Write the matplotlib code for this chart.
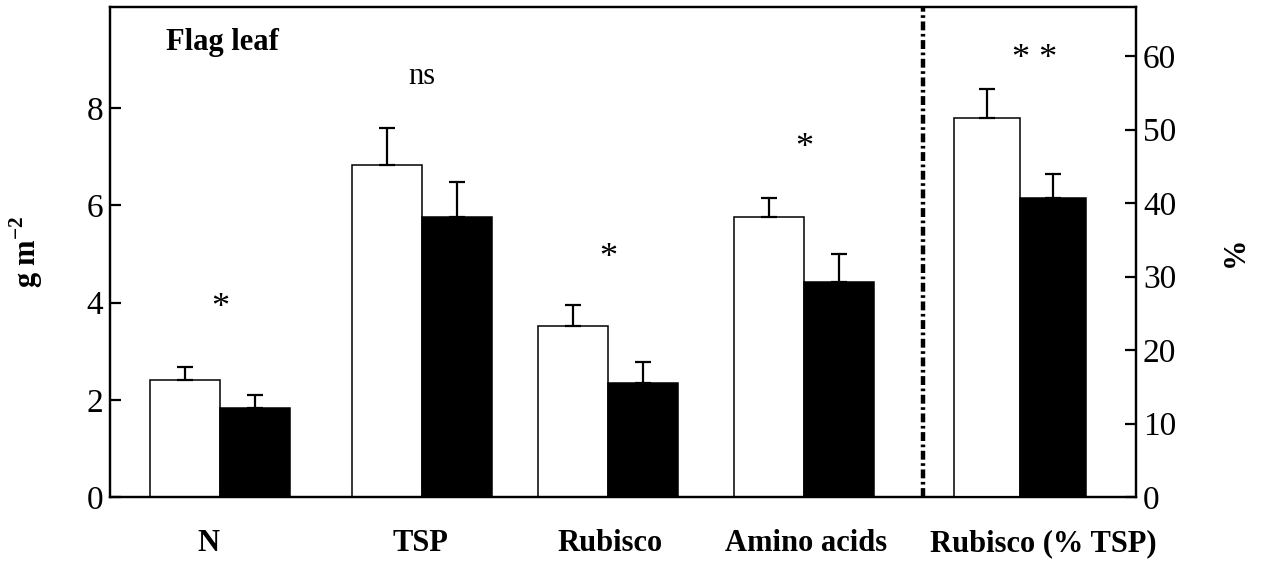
# Flag leaf N, TSP, Rubisco and amino acids (g m-2) plus Rubisco as % of TSP.
import matplotlib
matplotlib.use("Agg")
import matplotlib.pyplot as plt
import numpy as np

plt.rcParams['font.family'] = ['Liberation Serif', 'DejaVu Serif']
plt.rcParams['mathtext.fontset'] = 'custom'
plt.rcParams['mathtext.rm'] = 'Liberation Serif'
plt.rcParams['mathtext.bf'] = 'Liberation Serif:bold'

# data
groups = ['N', 'TSP', 'Rubisco', 'Amino acids']
white = [2.41, 6.82, 3.52, 5.75]
white_err = [0.26, 0.77, 0.43, 0.41]
black = [1.83, 5.75, 2.35, 4.43]
black_err = [0.27, 0.73, 0.43, 0.57]
signif = ['*', 'ns', '*', '*']
signif_y = [3.88, 8.64, 4.9, 7.16]

pct_group = 'Rubisco (% TSP)'
pct_white, pct_white_err = 51.6, 3.9
pct_black, pct_black_err = 40.7, 3.2
pct_signif = '* *'

# layout (x in axis units, frame 0..10.26)
xc = np.array([1.10, 3.12, 4.98, 6.94])
xc_pct = 9.10
w = 0.70
w_pct = 0.66
label_x = [0.98, 3.10, 5.00, 6.96, 9.33]
xdiv = 8.13

fig = plt.figure(figsize=(12.68, 5.64), dpi=100)
ax = fig.add_axes([0.0868, 0.1188, 0.8091, 0.8688])
ax2 = ax.twinx()

bar_kw = dict(edgecolor='black', linewidth=1.1)
err_kw = dict(elinewidth=1.6, capthick=1.6, capsize=6, ecolor='black')

ax.bar(xc - w/2, white, w, color='white', **bar_kw)
ax.bar(xc + w/2, black, w, color='black', **bar_kw)
ax.errorbar(xc - w/2, white, yerr=[np.zeros(4), white_err], fmt='none', **err_kw)
ax.errorbar(xc + w/2, black, yerr=[np.zeros(4), black_err], fmt='none', **err_kw)

ax2.bar(xc_pct - w_pct/2, pct_white, w_pct, color='white', **bar_kw)
ax2.bar(xc_pct + w_pct/2, pct_black, w_pct, color='black', **bar_kw)
ax2.errorbar([xc_pct - w_pct/2], [pct_white], yerr=[[0], [pct_white_err]], fmt='none', **err_kw)
ax2.errorbar([xc_pct + w_pct/2], [pct_black], yerr=[[0], [pct_black_err]], fmt='none', **err_kw)

# significance marks
for x, s, y in zip(xc, signif, signif_y):
    fs = 22 if s == 'ns' else 26
    ax.text(x, y, s, ha='center', va='center', fontsize=fs)
ax2.text(9.25, 59.5, pct_signif, ha='center', va='center', fontsize=26)

ax.text(0.56, 9.35, 'Flag leaf', fontsize=22, fontweight='bold', va='center')

# divider between the two scales
ax.axvline(xdiv, color='black', linewidth=3.2, linestyle=(0, (2.0, 0.8, 0.6, 0.8)))

ax.set_xlim(0, 10.26)
ax.set_ylim(0, 10.08)
ax2.set_ylim(0, 66.7)
ax.set_yticks([0, 2, 4, 6, 8])
ax2.set_yticks([0, 10, 20, 30, 40, 50, 60])
ax.set_xticks(label_x)
ax.set_xticklabels(groups + [pct_group], fontsize=22, fontweight='bold')
for lab in ax.get_xticklabels():
    lab.set_verticalalignment('baseline')
ax.tick_params(axis='x', length=0, pad=39)
ax.tick_params(axis='y', direction='in', length=8, width=1.6, labelsize=24, pad=5)
ax2.tick_params(axis='y', direction='in', length=8, width=1.6, labelsize=24, pad=5)

ax.set_ylabel(r'g m$^{\mathbf{-2}}$', fontsize=22, fontweight='bold', labelpad=30)
ax2.set_ylabel('%', fontsize=22, fontweight='bold', labelpad=32)

for a in (ax, ax2):
    for sp in a.spines.values():
        sp.set_linewidth(1.6)

fig.savefig('out.png', dpi=100)
